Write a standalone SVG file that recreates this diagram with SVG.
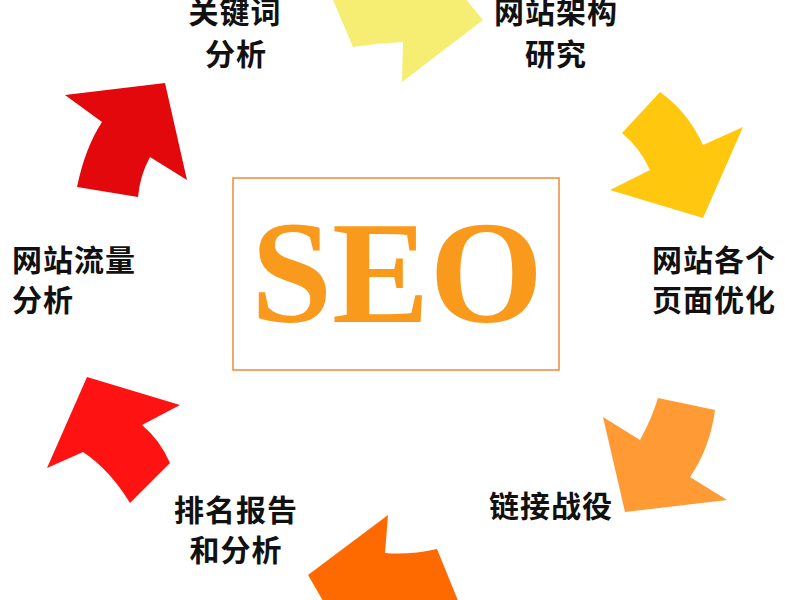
<svg xmlns="http://www.w3.org/2000/svg" width="800" height="600" viewBox="0 0 800 600">
<style>
.lbl{font-family:"Noto Sans CJK SC","Noto Sans",sans-serif;font-size:30px;font-weight:bold;fill:#111;letter-spacing:1px}
.mid{text-anchor:middle}
.seo{font-family:"Liberation Serif",serif;font-weight:bold;font-size:146px;fill:#F99A1C;text-anchor:middle}
</style>
<rect width="800" height="600" fill="#fff"/>
<g id="connectors">
<path id="a-top" d="M330,-20 L333,0 L353,47 Q378,43 403,42 L402,82 L483,20 L450,-20 Z" fill="#F5EE72"/>
<path id="a-rtop" d="M660,92 L622,133 Q640,148 650,170 L610,190 L703,218 L743,127 L703,145 Q688,112 660,92 Z" fill="#FFC80E"/>
<path id="a-rbot" d="M603,417 L640,440 Q652,418 658,398 L715,410 Q710,448 690,477 L727,500 L625,512 Z" fill="#FF9A35"/>
<path id="a-bot" d="M388,515 L385,553 Q410,555 437,549 L470,630 L340,630 L308,575 Z" fill="#FF6A00"/>
<path id="a-lbot" d="M87,377 L180,405 L142,425 Q160,440 170,463 L130,503 Q110,470 83,452 L47,468 Z" fill="#FF1212"/>
<path id="a-ltop" d="M65,95 L165,83 L187,180 L150,157 Q140,175 138,197 L77,187 Q85,148 102,122 Z" fill="#E2080C"/>
</g>
<g id="seo">
<rect x="233" y="178" width="326" height="192" fill="none" stroke="#F0883A" stroke-width="1.5"/>
<text class="seo" x="397" y="322">SEO</text>
</g>
<g id="n-keyword"><text class="lbl mid" x="235" y="23">关键词</text><text class="lbl mid" x="236" y="65">分析</text></g>
<g id="n-arch"><text class="lbl mid" x="556" y="23">网站架构</text><text class="lbl mid" x="556" y="65">研究</text></g>
<g id="n-page"><text class="lbl" x="652" y="271">网站各个</text><text class="lbl" x="652" y="311">页面优化</text></g>
<g id="n-link"><text class="lbl" x="489" y="517">链接战役</text></g>
<g id="n-rank"><text class="lbl mid" x="236" y="521">排名报告</text><text class="lbl mid" x="236" y="561">和分析</text></g>
<g id="n-traffic"><text class="lbl" x="12" y="271">网站流量</text><text class="lbl" x="12" y="311">分析</text></g>
</svg>
